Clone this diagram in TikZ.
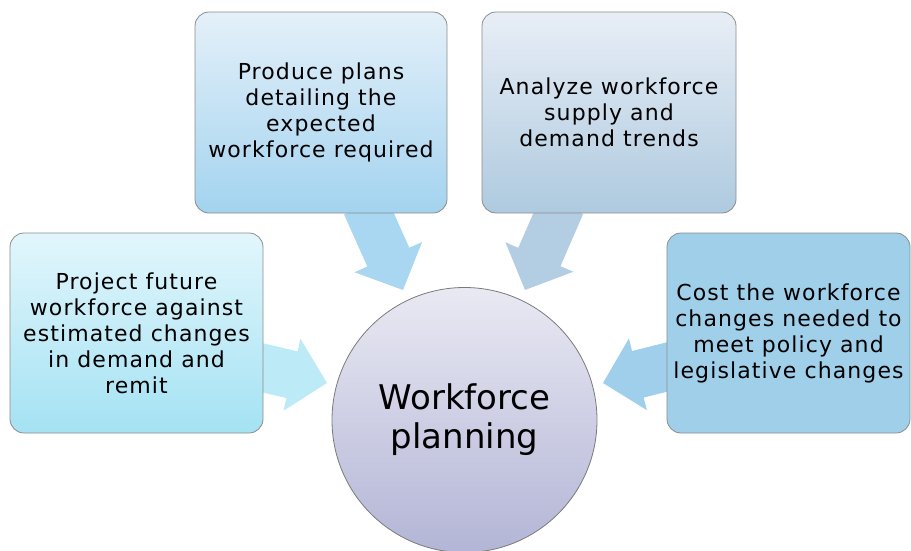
\documentclass[tikz,border=0pt]{standalone}
\usepackage{fontspec}
\setmainfont{DejaVu Sans}
\newfontfamily\boxfont[LetterSpace=5]{DejaVu Sans}
\usetikzlibrary{calc}
\definecolor{boxline}{HTML}{8C8C8C}
\definecolor{circline}{HTML}{7A7A7A}
\definecolor{lbtop}{HTML}{E2F6FC}\definecolor{lbbot}{HTML}{A4E2F3}
\definecolor{tltop}{HTML}{E4F0F9}\definecolor{tlbot}{HTML}{A3D3EF}
\definecolor{trtop}{HTML}{E8EEF6}\definecolor{trbot}{HTML}{AECADF}
\definecolor{rbfill}{HTML}{A0CFEA}
\definecolor{ctop}{HTML}{E9E9F3}\definecolor{cbot}{HTML}{B3B5D6}
\definecolor{arrL}{HTML}{BCEAF6}
\definecolor{arrTL}{HTML}{A9D6F0}
\definecolor{arrTR}{HTML}{B3CDE3}
\definecolor{arrR}{HTML}{A0CFEB}
\newcommand\blockarrow[6]{% tail, tip, shaft half width, head half width, head length, fill
  \coordinate (ba-base) at ($(#2)!#5!(#1)$);
  \fill[#6] ($(#1)!#3!90:(#2)$) -- ($(ba-base)!#3!90:(#2)$) -- ($(ba-base)!#4!90:(#2)$) -- (#2)
    -- ($(ba-base)!#4!-90:(#2)$) -- ($(ba-base)!#3!-90:(#2)$) -- ($(#1)!#3!-90:(#2)$) -- cycle;}
\begin{document}
\begin{tikzpicture}[x=1pt,y=-1pt,
  stepbox/.style={draw=boxline, line width=0.8pt, rounded corners=14pt, align=center,
    inner sep=0pt, font=\boxfont\fontsize{22}{26}\selectfont},
  hub/.style={circle, draw=circline, line width=0.8pt, minimum size=265pt, inner sep=0pt,
    align=center, top color=ctop, bottom color=cbot, font=\fontsize{34}{39}\selectfont}]
\useasboundingbox (0,0) rectangle (911,550);
% arrow end points
\coordinate (tL) at (255,366);  \coordinate (pL) at (327,383);
\coordinate (tTL) at (365,205); \coordinate (pTL) at (403,290);
\coordinate (tTR) at (562,205); \coordinate (pTR) at (525,290);
\coordinate (tR) at (675,365);  \coordinate (pR) at (603,383);
\blockarrow{tL}{pL}{24pt}{37pt}{36pt}{arrL}
\blockarrow{tTL}{pTL}{23pt}{37pt}{36pt}{arrTL}
\blockarrow{tTR}{pTR}{23pt}{37pt}{36pt}{arrTR}
\blockarrow{tR}{pR}{24pt}{37pt}{36pt}{arrR}
% boxes
\node[stepbox, minimum width=253pt, minimum height=200pt, top color=lbtop, bottom color=lbbot]
  (left) at (136.5,333) {Project future\\workforce against\\estimated changes\\in demand and\\remit};
\node[stepbox, minimum width=252pt, minimum height=201pt, top color=tltop, bottom color=tlbot]
  (topleft) at (321,112.5) {Produce plans\\detailing the\\expected\\workforce required};
\node[stepbox, minimum width=254pt, minimum height=201pt, top color=trtop, bottom color=trbot]
  (topright) at (609,112.5) {Analyze workforce\\supply and\\demand trends};
\node[stepbox, minimum width=243pt, minimum height=200pt, fill=rbfill]
  (right) at (788.5,333) {Cost the workforce\\changes needed to\\meet policy and\\legislative changes};
% hub
\node[hub] (hub) at (464.5,420) {Workforce\\planning};
\end{tikzpicture}
\end{document}
